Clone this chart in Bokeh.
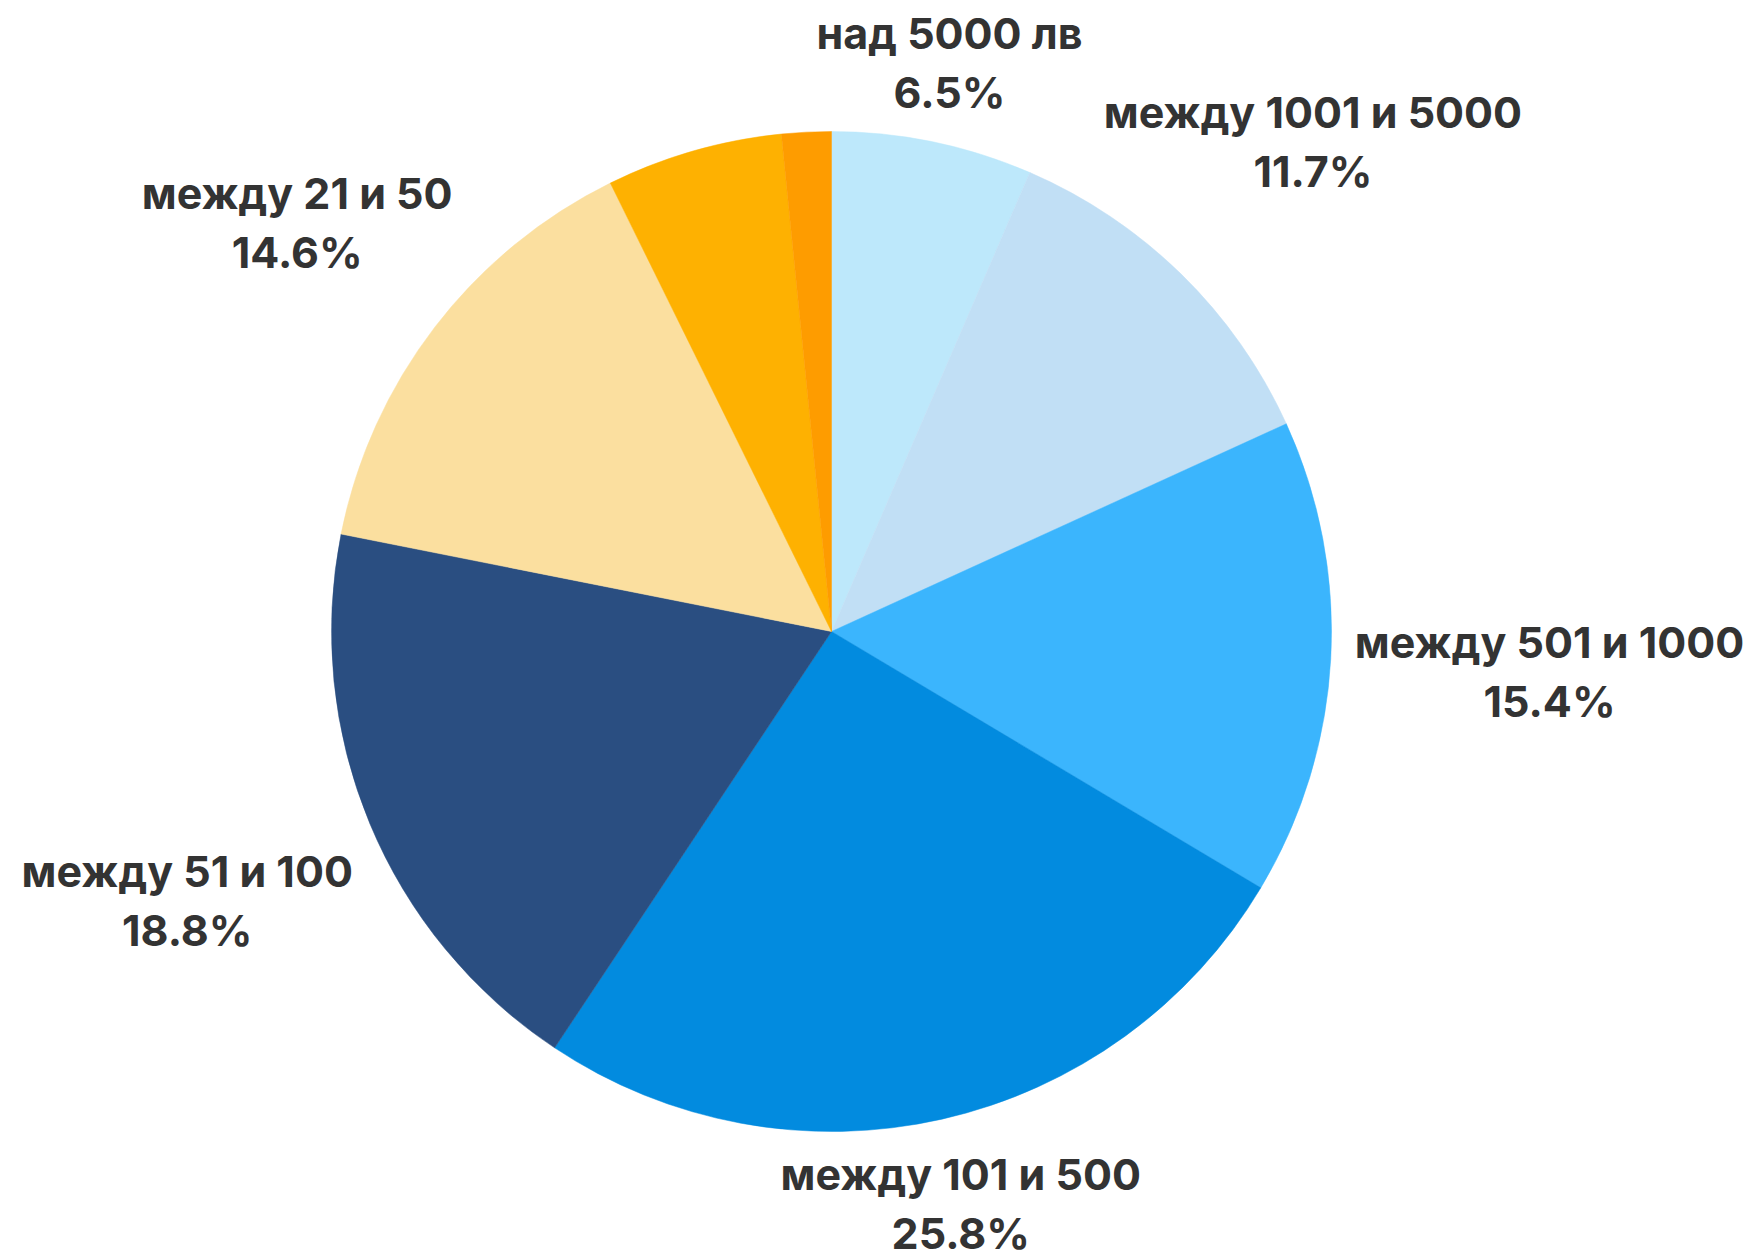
import math
from bokeh.plotting import figure
from bokeh.models import Range1d, ColumnDataSource
from bokeh.embed import file_html
from bokeh.resources import INLINE
from bokeh.core.properties import value

# ---- data (clockwise from 12 o'clock) ----
categories = ["над 5000 лв", "между 1001 и 5000", "между 501 и 1000",
              "между 101 и 500", "между 51 и 100", "между 21 и 50", "", ""]
values = [6.5, 11.7, 15.4, 25.8, 18.8, 14.6, 5.7, 1.6]
colors = ["#BDE8FB", "#C1DFF5", "#3BB5FD", "#028BDF", "#2A4E81",
          "#FBDF9F", "#FEB101", "#FE9C00"]

# ---- layout ----
W, H = 1753, 1251
CX, CY = 831, H - 631
R = 500
GAP = 26
FONT = "Inter"
FSIZE = 43
CAP = 30
LINE = 59
CHAR_W = 24
TEXT_LIFT = 14

p = figure(width=W, height=H, x_range=Range1d(0, W), y_range=Range1d(0, H),
           output_backend="svg", toolbar_location=None, min_border=0,
           x_axis_location=None, y_axis_location=None)
p.grid.visible = False
p.outline_line_color = None
p.background_fill_color = "white"
p.border_fill_color = "white"

total = sum(values)
starts, ends, mids = [], [], []
cum = 0.0
for v in values:
    f0 = cum / total
    cum += v
    f1 = cum / total
    starts.append(math.pi / 2 - 2 * math.pi * f0)
    ends.append(math.pi / 2 - 2 * math.pi * f1)
    mids.append(2 * math.pi * (f0 + f1) / 2)

wsrc = ColumnDataSource(dict(x=[CX] * len(values), y=[CY] * len(values),
                             start=starts, end=ends, color=colors))
p.wedge(x="x", y="y", radius=R, start_angle="start", end_angle="end",
        direction="clock", fill_color="color", line_color="color",
        line_width=0.5, source=wsrc)

# ---- labels: box pushed out along the mid-angle ray until its nearest
# point is R+GAP from the center ----
def box_dist(cx, cy, hw, hh):
    dx = max(abs(cx) - hw, 0.0)
    dy = max(abs(cy) - hh, 0.0)
    return math.hypot(dx, dy)

lx, ly1, ly2, names, pcts = [], [], [], [], []
for name, v, th in zip(categories, values, mids):
    if not name:
        continue
    pct = f"{v:.1f}%"
    hw = CHAR_W * max(len(name), len(pct)) / 2
    hh = (LINE + CAP) / 2
    ux, uy = math.sin(th), math.cos(th)
    lo, hi = 0.0, 3000.0
    for _ in range(60):
        mid = (lo + hi) / 2
        if box_dist(mid * ux, mid * uy, hw, hh) < R + GAP:
            lo = mid
        else:
            hi = mid
    bx, by = CX + lo * ux, CY + lo * uy + TEXT_LIFT
    lx.append(bx)
    ly1.append(by + hh - CAP)
    ly2.append(by - hh)
    names.append(name)
    pcts.append(pct)

tsrc = ColumnDataSource(dict(x=lx, y1=ly1, y2=ly2, name=names, pct=pcts))
for col, ycol in (("name", "y1"), ("pct", "y2")):
    p.text(x="x", y=ycol, text=col, source=tsrc, text_font=value(FONT),
           text_font_size=f"{FSIZE}px", text_font_style="bold",
           text_color="#333333", text_align="center", text_baseline="alphabetic")

open("out.html", "w").write(file_html(p, INLINE))
